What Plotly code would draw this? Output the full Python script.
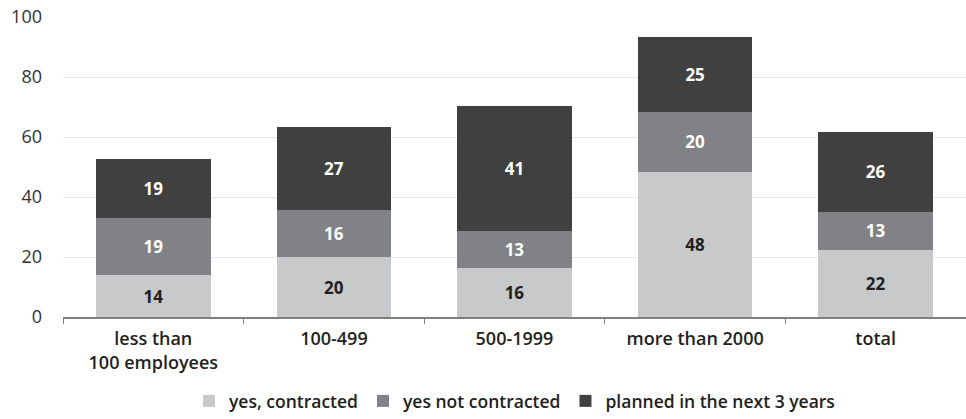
import plotly.graph_objects as go

categories = ["less than<br>100 employees", "100-499", "500-1999", "more than 2000", "total"]
series_names = ["yes, contracted", "yes not contracted", "planned in the next 3 years"]
contracted = [14.0, 19.9, 16.5, 48.3, 22.5]
not_contracted = [19.1, 15.9, 12.3, 20.2, 12.6]
planned = [19.5, 27.4, 41.5, 24.9, 26.5]
contracted_labels = [14, 20, 16, 48, 22]
not_contracted_labels = [19, 16, 13, 20, 13]
planned_labels = [19, 27, 41, 25, 26]
y_ticks = [0, 20, 40, 60, 80, 100]

colors = ["#c8c9cb", "#808285", "#404041"]
text_colors = ["#231f20", "#ffffff", "#ffffff"]
FONT = "Open Sans"

fig = go.Figure()
for name, vals, labels, col, tcol in zip(
    series_names,
    [contracted, not_contracted, planned],
    [contracted_labels, not_contracted_labels, planned_labels],
    colors, text_colors,
):
    fig.add_trace(go.Bar(
        x=categories, y=vals, name=name,
        marker=dict(color=col, line=dict(width=0)),
        text=[str(v) for v in labels], textposition="inside",
        insidetextanchor="middle", textangle=0,
        textfont=dict(family=FONT, size=17, color=tcol, weight="bold"),
        hoverinfo="skip",
    ))

fig.update_layout(
    barmode="stack",
    bargap=0.365,
    width=966, height=419,
    margin=dict(l=63, r=0, t=17, b=100),
    paper_bgcolor="white", plot_bgcolor="white",
    uniformtext=dict(minsize=8, mode="show"),
    font=dict(family=FONT, color="#231f20"),
    showlegend=True,
    legend=dict(
        orientation="h", x=0.5, xanchor="center", y=-0.281, yanchor="middle",
        font=dict(family=FONT, size=17.5, color="#231f20", weight=600),
        itemsizing="constant", traceorder="normal",
        itemwidth=30, tracegroupgap=0,
    ),
    xaxis=dict(
        showgrid=False, showline=True, linecolor="#7f7f7f", linewidth=1.5,
        ticks="outside", tickson="boundaries", ticklen=5, tickcolor="#7f7f7f",
        ticklabelstandoff=5,
        tickfont=dict(family=FONT, size=18, color="#231f20", weight=600),
        fixedrange=True,
    ),
    yaxis=dict(
        range=[0, 100], tickvals=y_ticks, showgrid=True, gridcolor="#e8e8e8",
        gridwidth=1, zeroline=False, showline=False, ticks="",
        ticklabelstandoff=20,
        tickfont=dict(family=FONT, size=18, color="#333333"),
        fixedrange=True,
    ),
)

fig.write_html("out.html")
